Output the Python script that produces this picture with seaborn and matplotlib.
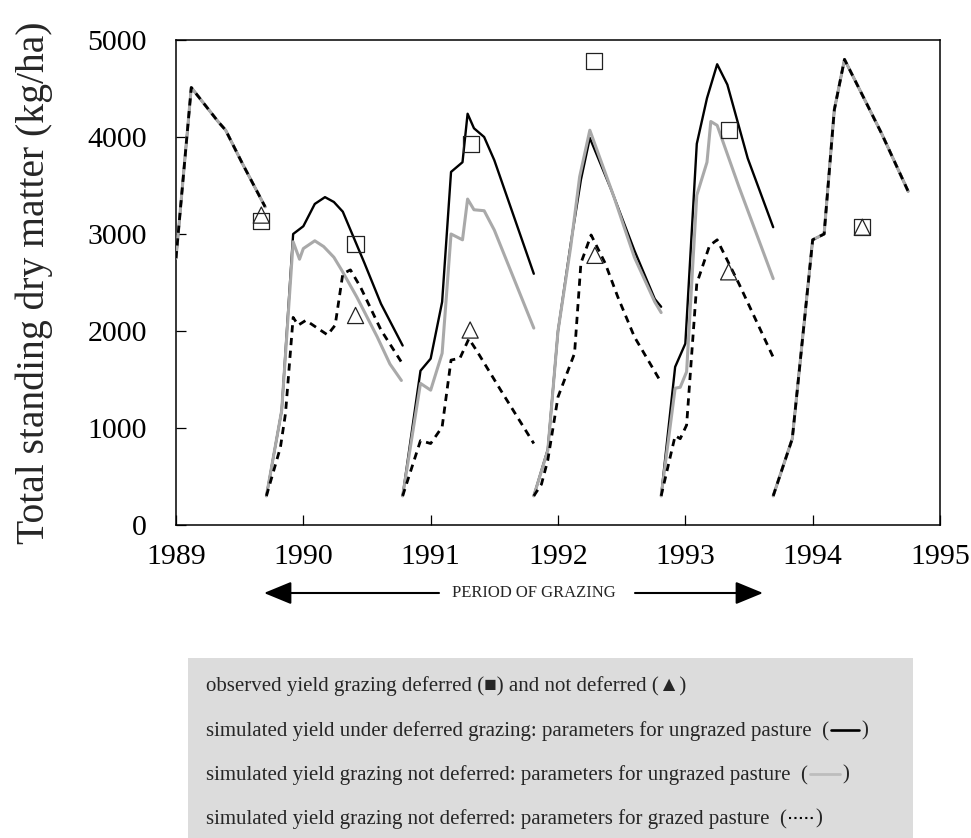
import numpy as np
import pandas as pd
import matplotlib
matplotlib.use("Agg")
import matplotlib.pyplot as plt
import seaborn as sns
from matplotlib.patches import Rectangle, FancyArrowPatch
from matplotlib.lines import Line2D

# ---------------- data ----------------
# shared seasons (all three simulations coincide)
s1989_year = [1989.00, 1989.12, 1989.33, 1989.39, 1989.52, 1989.70]
s1989_dm = [2750, 4510, 4160, 4070, 3730, 3280]
s1994_year = [1993.69, 1993.84, 1994.00, 1994.09, 1994.17, 1994.25, 1994.54, 1994.75]
s1994_dm = [300, 890, 2940, 3000, 4280, 4800, 4040, 3440]

# simulated, deferred grazing, parameters for ungrazed pasture (black)
black_1990_year = [1989.71, 1989.83, 1989.92, 1990.00, 1990.09, 1990.17, 1990.24, 1990.31, 1990.48, 1990.61, 1990.78]
black_1990_dm = [300, 1180, 3000, 3080, 3310, 3380, 3330, 3230, 2700, 2280, 1850]
black_1991_year = [1990.78, 1990.92, 1991.00, 1991.09, 1991.16, 1991.25, 1991.29, 1991.34, 1991.42, 1991.50, 1991.81]
black_1991_dm = [300, 1590, 1715, 2300, 3640, 3740, 4240, 4090, 4000, 3760, 2590]
black_1992_year = [1991.81, 1991.92, 1992.00, 1992.10, 1992.18, 1992.25, 1992.42, 1992.60, 1992.76, 1992.81]
black_1992_dm = [300, 780, 2000, 2900, 3560, 3990, 3450, 2830, 2330, 2250]
black_1993_year = [1992.81, 1992.92, 1993.00, 1993.09, 1993.17, 1993.25, 1993.33, 1993.49, 1993.69]
black_1993_dm = [300, 1630, 1870, 3930, 4400, 4750, 4540, 3780, 3070]

# simulated, grazing not deferred, parameters for ungrazed pasture (grey)
grey_1990_year = [1989.71, 1989.83, 1989.92, 1989.97, 1990.00, 1990.09, 1990.16, 1990.24, 1990.30, 1990.42, 1990.58, 1990.68, 1990.77]
grey_1990_dm = [300, 1180, 2920, 2740, 2850, 2930, 2870, 2760, 2630, 2350, 1940, 1660, 1490]
grey_1991_year = [1990.78, 1990.92, 1991.00, 1991.09, 1991.16, 1991.25, 1991.29, 1991.34, 1991.42, 1991.50, 1991.81]
grey_1991_dm = [300, 1460, 1390, 1770, 3000, 2940, 3360, 3250, 3240, 3040, 2030]
grey_1992_year = [1991.81, 1991.92, 1992.00, 1992.10, 1992.17, 1992.25, 1992.44, 1992.60, 1992.76, 1992.81]
grey_1992_dm = [300, 770, 2000, 2870, 3590, 4070, 3380, 2760, 2300, 2190]
grey_1993_year = [1992.81, 1992.92, 1992.96, 1993.01, 1993.09, 1993.17, 1993.20, 1993.25, 1993.42, 1993.69]
grey_1993_dm = [300, 1410, 1420, 1580, 3400, 3740, 4160, 4120, 3490, 2540]

# simulated, grazing not deferred, parameters for grazed pasture (dashed)
dash_1990_year = [1989.71, 1989.82, 1989.86, 1989.92, 1989.96, 1990.02, 1990.11, 1990.19, 1990.25, 1990.31, 1990.37, 1990.45, 1990.61, 1990.77]
dash_1990_dm = [300, 800, 1150, 2140, 2060, 2110, 2030, 1960, 2060, 2590, 2630, 2450, 2010, 1680]
dash_1991_year = [1990.78, 1990.92, 1991.00, 1991.09, 1991.16, 1991.23, 1991.30, 1991.36, 1991.55, 1991.81]
dash_1991_dm = [300, 870, 840, 1010, 1700, 1720, 1920, 1800, 1390, 840]
dash_1992_year = [1991.81, 1991.87, 1991.92, 1992.00, 1992.13, 1992.18, 1992.26, 1992.37, 1992.47, 1992.60, 1992.81]
dash_1992_dm = [300, 420, 670, 1320, 1770, 2700, 2990, 2700, 2350, 1940, 1470]
dash_1993_year = [1992.81, 1992.92, 1992.96, 1993.01, 1993.09, 1993.19, 1993.25, 1993.42, 1993.69]
dash_1993_dm = [300, 920, 890, 1030, 2490, 2880, 2940, 2490, 1730]

# observed yields
obs_deferred_year = [1989.67, 1990.41, 1991.32, 1992.28, 1993.34, 1994.39]
obs_deferred_dm = [3130, 2900, 3930, 4780, 4070, 3070]
obs_notdef_year = [1989.67, 1990.41, 1991.31, 1992.29, 1993.34, 1994.39]
obs_notdef_dm = [3195, 2160, 2010, 2780, 2610, 3070]

x_ticks = [1989, 1990, 1991, 1992, 1993, 1994, 1995]
y_ticks = [0, 1000, 2000, 3000, 4000, 5000]

y_label = "Total standing dry matter (kg/ha)"
arrow_label = "PERIOD OF GRAZING"
legend_lines = [
    "observed yield grazing deferred (\u25a0) and not deferred (\u25b2)",
    "simulated yield under deferred grazing: parameters for ungrazed pasture  (",
    "simulated yield grazing not deferred: parameters for ungrazed pasture  (",
    "simulated yield grazing not deferred: parameters for grazed pasture  (",
]


def build(segments):
    rows = []
    for season, (yrs, dms) in segments.items():
        for a, b in zip(yrs, dms):
            rows.append((season, a, b))
    return pd.DataFrame(rows, columns=["season", "year", "dm"])


black_df = build({1989: (s1989_year, s1989_dm), 1990: (black_1990_year, black_1990_dm),
                  1991: (black_1991_year, black_1991_dm), 1992: (black_1992_year, black_1992_dm),
                  1993: (black_1993_year, black_1993_dm), 1994: (s1994_year, s1994_dm)})
grey_df = build({1989: (s1989_year, s1989_dm), 1990: (grey_1990_year, grey_1990_dm),
                 1991: (grey_1991_year, grey_1991_dm), 1992: (grey_1992_year, grey_1992_dm),
                 1993: (grey_1993_year, grey_1993_dm), 1994: (s1994_year, s1994_dm)})
dash_df = build({1989: (s1989_year, s1989_dm), 1990: (dash_1990_year, dash_1990_dm),
                 1991: (dash_1991_year, dash_1991_dm), 1992: (dash_1992_year, dash_1992_dm),
                 1993: (dash_1993_year, dash_1993_dm), 1994: (s1994_year, s1994_dm)})
obs_def_df = pd.DataFrame({"year": obs_deferred_year, "dm": obs_deferred_dm})
obs_nd_df = pd.DataFrame({"year": obs_notdef_year, "dm": obs_notdef_dm})

# ---------------- styling ----------------
sns.set_style("ticks")
plt.rcParams["font.family"] = ["Liberation Serif", "DejaVu Serif", "DejaVu Sans"]
plt.rcParams["axes.linewidth"] = 1.1
plt.rcParams["axes.edgecolor"] = "black"

W, H = 971, 838
fig = plt.figure(figsize=(W / 100, H / 100), dpi=100)
ax = fig.add_axes([176 / W, 1 - 525 / H, 764 / W, 485 / H])

sns.lineplot(data=black_df, x="year", y="dm", units="season", estimator=None, sort=False,
             color="black", lw=1.7, ax=ax, legend=False, zorder=2)
sns.lineplot(data=grey_df, x="year", y="dm", units="season", estimator=None, sort=False,
             color="#a9a9a9", lw=2.2, ax=ax, legend=False, zorder=3)
sns.lineplot(data=dash_df, x="year", y="dm", units="season", estimator=None, sort=False,
             color="black", lw=2.0, linestyle=(0, (2.6, 2.0)), ax=ax, legend=False, zorder=4)

sns.scatterplot(data=obs_def_df, x="year", y="dm", marker="s", s=135, facecolor="none",
                edgecolor="#222222", linewidth=0.9, ax=ax, legend=False, zorder=5)
sns.scatterplot(data=obs_nd_df, x="year", y="dm", marker="^", s=135, facecolor="none",
                edgecolor="#222222", linewidth=0.9, ax=ax, legend=False, zorder=5)

ax.set_xlim(1989, 1995)
ax.set_ylim(0, 5000)
ax.set_xticks(x_ticks)
ax.set_yticks(y_ticks)
ax.tick_params(axis="both", direction="in", length=7.5, width=0.9, labelsize=21.5, colors="black")
ax.tick_params(axis="y", pad=21)
ax.tick_params(axis="x", pad=14)
ax.set_xlabel("")
ax.set_ylabel(y_label, fontsize=28.5)
ax.yaxis.set_label_coords(-0.161, 0.5)
for sp in ax.spines.values():
    sp.set_visible(True)
    sp.set_color("black")

# ---------------- grazing-period arrow ----------------
def fx(px):
    return px / W


def fy(py):
    return 1 - py / H


ay = 593
for x0, x1 in [(439, 264), (635, 763)]:
    arr = FancyArrowPatch((fx(x0), fy(ay)), (fx(x1), fy(ay)), transform=fig.transFigure,
                          arrowstyle="-|>,head_length=1.7,head_width=0.7", mutation_scale=10,
                          lw=1.5, color="black", shrinkA=0, shrinkB=0)
    fig.add_artist(arr)
fig.text(fx(534), fy(ay), arrow_label, ha="center", va="center", fontsize=12)

# ---------------- legend box ----------------
fig.add_artist(Rectangle((fx(188), 0), (913 - 188) / W, 180 / H, transform=fig.transFigure,
                         facecolor="#dcdcdc", edgecolor="none", zorder=0))
rows_y = [686, 731, 775, 819]
texts = []
for txt, ry in zip(legend_lines, rows_y):
    texts.append(fig.text(fx(206), fy(ry), txt, ha="left", va="center", fontsize=15,
                          family=["Liberation Serif", "DejaVu Sans"], zorder=2))

fig.canvas.draw()
renderer = fig.canvas.get_renderer()
samples = [
    (1, dict(color="black", lw=1.9, linestyle="-"), 28),
    (2, dict(color="#bdbdbd", lw=2.0, linestyle="-"), 30),
    (3, dict(color="black", lw=1.5, linestyle=(0, (1, 1.6))), 24),
]
for idx, style, length in samples:
    bb = texts[idx].get_window_extent(renderer=renderer)
    xs = bb.x1 + 2
    ly = (bb.y0 + bb.y1) / 2 + 1
    fig.add_artist(Line2D([xs / W, (xs + length) / W], [ly / H, ly / H],
                          transform=fig.transFigure, zorder=3, **style))
    fig.text((xs + length + 2) / W, fy(rows_y[idx]), ")", ha="left", va="center", fontsize=15, zorder=2)

fig.savefig("out.png", dpi=100)
